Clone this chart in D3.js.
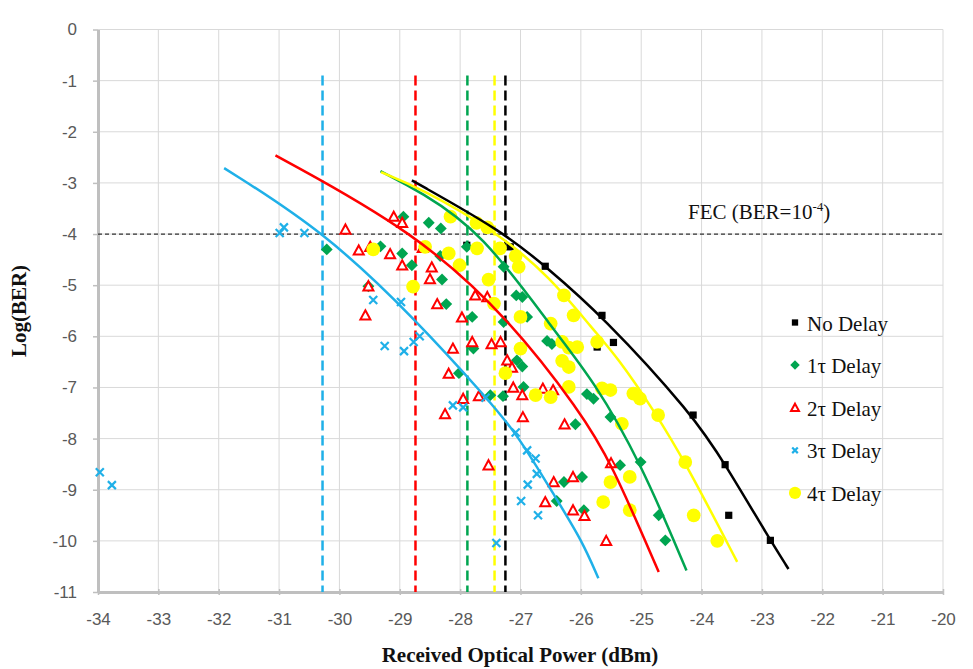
<!DOCTYPE html>
<html><head><meta charset="utf-8">
<script src="https://cdn.jsdelivr.net/npm/d3@7/dist/d3.min.js"></script>
<style>body{margin:0;background:#fff}svg{display:block}</style>
</head><body><svg id="c" width="973" height="669"></svg>
<script>
const xTicks = [-34,-33,-32,-31,-30,-29,-28,-27,-26,-25,-24,-23,-22,-21,-20];
const yTicks = [0,-1,-2,-3,-4,-5,-6,-7,-8,-9,-10,-11];
const seriesNames = ["No Delay","1\u03c4 Delay","2\u03c4 Delay","3\u03c4 Delay","4\u03c4 Delay"];
const fecLevel = -4;
const sensitivity = [-27.25,-27.88,-28.74,-30.28,-27.43];
const sensTop = -0.9;

const noDelay = [[-27.89,-4.22],[-27.17,-4.25],[-26.59,-4.63],[-26.48,-5.78],[-26.25,-5.2],[-25.65,-5.59],[-25.73,-6.21],[-25.46,-6.12],[-24.14,-7.54],[-23.61,-8.51],[-23.55,-9.5],[-22.86,-9.99]];
const delay1 = [[-30.21,-4.30],[-29.52,-5.02],[-29.32,-4.24],[-28.96,-4.38],[-28.80,-4.61],[-28.94,-3.66],[-28.52,-3.78],[-28.32,-3.89],[-28.33,-4.43],[-28.30,-4.89],[-28.23,-5.37],[-27.89,-4.25],[-27.80,-5.62],[-27.28,-4.64],[-27.07,-5.20],[-26.97,-5.23],[-26.89,-5.62],[-27.28,-5.72],[-27.78,-6.24],[-28.02,-6.72],[-27.50,-7.15],[-27.29,-7.17],[-27.06,-6.47],[-26.97,-6.59],[-26.95,-6.99],[-26.56,-6.09],[-26.48,-6.15],[-25.90,-7.13],[-25.79,-7.22],[-26.09,-7.72],[-25.51,-7.58],[-26.28,-8.85],[-25.98,-8.75],[-25.35,-8.52],[-25.01,-8.46],[-26.40,-9.22],[-25.95,-9.40],[-24.71,-9.50],[-24.60,-9.99]];
const delay2 = [[-29.90,-3.91],[-29.10,-3.66],[-28.96,-3.78],[-29.68,-4.32],[-29.49,-4.25],[-29.16,-4.39],[-28.96,-4.61],[-29.52,-5.02],[-29.57,-5.59],[-28.62,-4.27],[-28.50,-4.88],[-28.47,-4.65],[-27.75,-5.20],[-27.55,-5.23],[-28.38,-5.37],[-27.97,-5.63],[-28.12,-6.24],[-27.80,-6.11],[-27.48,-6.15],[-27.33,-6.11],[-27.22,-6.47],[-27.14,-6.61],[-28.19,-6.73],[-27.95,-7.22],[-27.69,-7.17],[-28.25,-7.52],[-27.12,-7.0],[-26.97,-7.15],[-26.96,-7.58],[-26.63,-7.02],[-26.46,-7.05],[-26.27,-7.72],[-27.53,-8.52],[-26.45,-8.85],[-26.13,-8.75],[-25.50,-8.48],[-26.59,-9.24],[-26.13,-9.40],[-25.94,-9.51],[-25.58,-10.0]];
const delay3 = [[-33.97,-8.66],[-33.77,-8.91],[-30.99,-3.98],[-30.92,-3.87],[-30.58,-3.98],[-29.44,-5.29],[-28.98,-5.33],[-29.25,-6.19],[-28.93,-6.29],[-28.77,-6.11],[-28.67,-6.0],[-28.12,-7.35],[-27.95,-7.39],[-27.58,-7.20],[-27.08,-7.88],[-26.89,-8.23],[-26.75,-8.39],[-26.73,-8.69],[-26.88,-8.90],[-26.99,-9.22],[-26.71,-9.50],[-27.40,-10.04]];
const delay4 = [[-29.44,-4.30],[-28.78,-5.03],[-28.58,-4.25],[-28.16,-3.66],[-27.73,-3.78],[-27.55,-3.87],[-27.72,-4.28],[-28.19,-4.38],[-28.01,-4.61],[-27.34,-4.28],[-27.08,-4.43],[-27.03,-4.64],[-27.53,-4.89],[-27.44,-5.36],[-27.0,-5.62],[-26.50,-5.75],[-26.28,-5.20],[-26.12,-5.59],[-27.0,-6.24],[-27.25,-6.72],[-26.75,-7.15],[-26.50,-7.19],[-26.31,-6.11],[-26.20,-6.22],[-26.31,-6.48],[-26.20,-6.60],[-26.20,-6.99],[-26.06,-6.21],[-25.73,-6.11],[-25.65,-7.02],[-25.51,-7.05],[-25.13,-7.12],[-25.02,-7.22],[-24.72,-7.54],[-25.32,-7.71],[-24.27,-8.46],[-25.51,-8.85],[-25.19,-8.75],[-25.63,-9.24],[-25.19,-9.40],[-24.13,-9.50],[-23.74,-10.0]];

const fitNoDelay = [[-28.8,-2.95],[-27.28,-3.96],[-26.59,-4.63],[-25.65,-5.59],[-24.14,-7.54],[-23.61,-8.50],[-22.86,-9.99],[-22.56,-10.55]];
const fit1 = [[-29.32,-2.77],[-28.66,-3.17],[-27.64,-3.96],[-26.45,-5.88],[-25.79,-6.86],[-25.01,-8.46],[-24.25,-10.58]];
const fit2 = [[-31.06,-2.46],[-28.74,-3.96],[-27.17,-5.68],[-26.01,-7.48],[-25.51,-8.43],[-24.71,-10.61]];
const fit3 = [[-31.91,-2.71],[-30.24,-3.96],[-28.72,-5.69],[-27.55,-7.22],[-27.06,-7.90],[-26.39,-9.21],[-25.98,-10.0],[-25.71,-10.73]];
const fit4 = [[-29.31,-2.79],[-28.66,-3.10],[-27.4,-3.95],[-26.5,-4.85],[-25.79,-5.88],[-25.4,-6.4],[-24.79,-7.45],[-24.27,-8.46],[-23.41,-10.41]];

const colors = ["#000000","#00a550","#ff0000","#1fb0e8","#ffff00"];
const points = [noDelay, delay1, delay2, delay3, delay4];
const fits = [fitNoDelay, fit1, fit2, fit3, fit4];

const svg = d3.select("#c");
const x = d3.scaleLinear().domain([-34,-20]).range([98,943]);
const y = d3.scaleLinear().domain([0,-11]).range([29.5,592]);

// grid
const g = svg.append("g");
g.selectAll(".vg").data(xTicks.slice(1)).enter().append("line")
  .attr("x1",d=>x(d)).attr("x2",d=>x(d)).attr("y1",y(0)).attr("y2",y(-11))
  .attr("stroke","#d9d9d9").attr("stroke-width",1);
g.selectAll(".hg").data(yTicks.slice(0,-1)).enter().append("line")
  .attr("x1",x(-34)).attr("x2",x(-20)).attr("y1",d=>y(d)).attr("y2",d=>y(d))
  .attr("stroke","#d9d9d9").attr("stroke-width",1);

// axes
const fmt = d=>String(d);
const ax = svg.append("g").attr("transform",`translate(0,${y(-11)})`)
  .call(d3.axisBottom(x).tickValues(xTicks).tickFormat(fmt).tickSize(5).tickSizeOuter(0).tickPadding(16));
const ay = svg.append("g").attr("transform",`translate(${x(-34)},0)`)
  .call(d3.axisLeft(y).tickValues(yTicks).tickFormat(fmt).tickSize(5).tickSizeOuter(0).tickPadding(16));
[ax,ay].forEach(a=>{
  a.select(".domain").attr("stroke","#bfbfbf").attr("stroke-width",3);
  a.selectAll(".tick line").attr("stroke","#bfbfbf").attr("stroke-width",1.5);
  a.selectAll("text").attr("fill","#595959").style("font-family","'Liberation Sans',Arial,sans-serif").style("font-size","17px");
});
ax.selectAll(".tick line").attr("y1",-3).attr("y2",3);

// FEC line
svg.append("line").attr("x1",x(-34)).attr("x2",x(-20)).attr("y1",y(fecLevel)).attr("y2",y(fecLevel))
  .attr("stroke","#333").attr("stroke-width",1.2).attr("stroke-dasharray","4,3");
const fec = svg.append("text").attr("x",688).attr("y",219)
  .style("font-family","'Liberation Serif','Times New Roman',serif").style("font-size","21px").attr("fill","#111");
fec.append("tspan").text("FEC (BER=10");
fec.append("tspan").attr("dy",-8).style("font-size","13px").text("-4");
fec.append("tspan").attr("dy",8).text(")");

// sensitivity dashed verticals
svg.selectAll(".sens").data(sensitivity).enter().append("line")
  .attr("x1",d=>x(d)).attr("x2",d=>x(d)).attr("y1",y(sensTop)).attr("y2",y(-11))
  .attr("stroke",(d,i)=>colors[i]).attr("stroke-width",2.5).attr("stroke-dasharray","10,5");

// markers
function drawMarker(sel, i, s){
  const c = colors[i];
  if(i===0) sel.append("rect").attr("x",-s*0.45).attr("y",-s*0.45).attr("width",s*0.9).attr("height",s*0.9).attr("fill",c);
  else if(i===1) sel.append("path").attr("d",d3.symbol(d3.symbolDiamond2,s*s*0.9)()).attr("fill",c);
  else if(i===2) sel.append("path").attr("d",`M0,${-s*0.5}L${s*0.5},${s*0.42}L${-s*0.5},${s*0.42}Z`).attr("fill","#fff").attr("stroke",c).attr("stroke-width",2);
  else if(i===3) sel.append("path").attr("d",`M${-s*0.4},${-s*0.4}L${s*0.4},${s*0.4}M${s*0.4},${-s*0.4}L${-s*0.4},${s*0.4}`).attr("stroke",c).attr("stroke-width",2.2);
  else sel.append("circle").attr("r",s*0.55).attr("fill",c);
}
const sizes = [8,10,10,10,12.5];
points.forEach((arr,i)=>{
  const gg = svg.append("g");
  arr.forEach(p=>{
    const m = gg.append("g").attr("transform",`translate(${x(p[0])},${y(p[1])})`);
    drawMarker(m,i,sizes[i]);
  });
});

// fitted curves
const line = d3.line().x(d=>x(d[0])).y(d=>y(d[1])).curve(d3.curveBasis);
fits.forEach((f,i)=>{
  svg.append("path").attr("d",line(f)).attr("fill","none").attr("stroke",colors[i]).attr("stroke-width",2.5);
});

// legend
const lg = svg.append("g");
seriesNames.forEach((n,i)=>{
  const yy = 322.5 + i*42.6;
  const m = lg.append("g").attr("transform",`translate(795,${yy})`);
  drawMarker(m,i,[7,8,8,7,11][i]);
  lg.append("text").attr("x",807).attr("y",yy+8).text(n)
    .style("font-family","'Liberation Serif','Times New Roman',serif").style("font-size","21px").attr("fill","#111");
});

// axis titles
svg.append("text").attr("x",520).attr("y",662).attr("text-anchor","middle").text("Received Optical Power (dBm)")
  .style("font-family","'Liberation Serif','Times New Roman',serif").style("font-weight","bold").style("font-size","21px").attr("fill","#111");
svg.append("text").attr("transform","translate(26,311) rotate(-90)").attr("text-anchor","middle").text("Log(BER)")
  .style("font-family","'Liberation Serif','Times New Roman',serif").style("font-weight","bold").style("font-size","21px").attr("fill","#111");
</script></body></html>
